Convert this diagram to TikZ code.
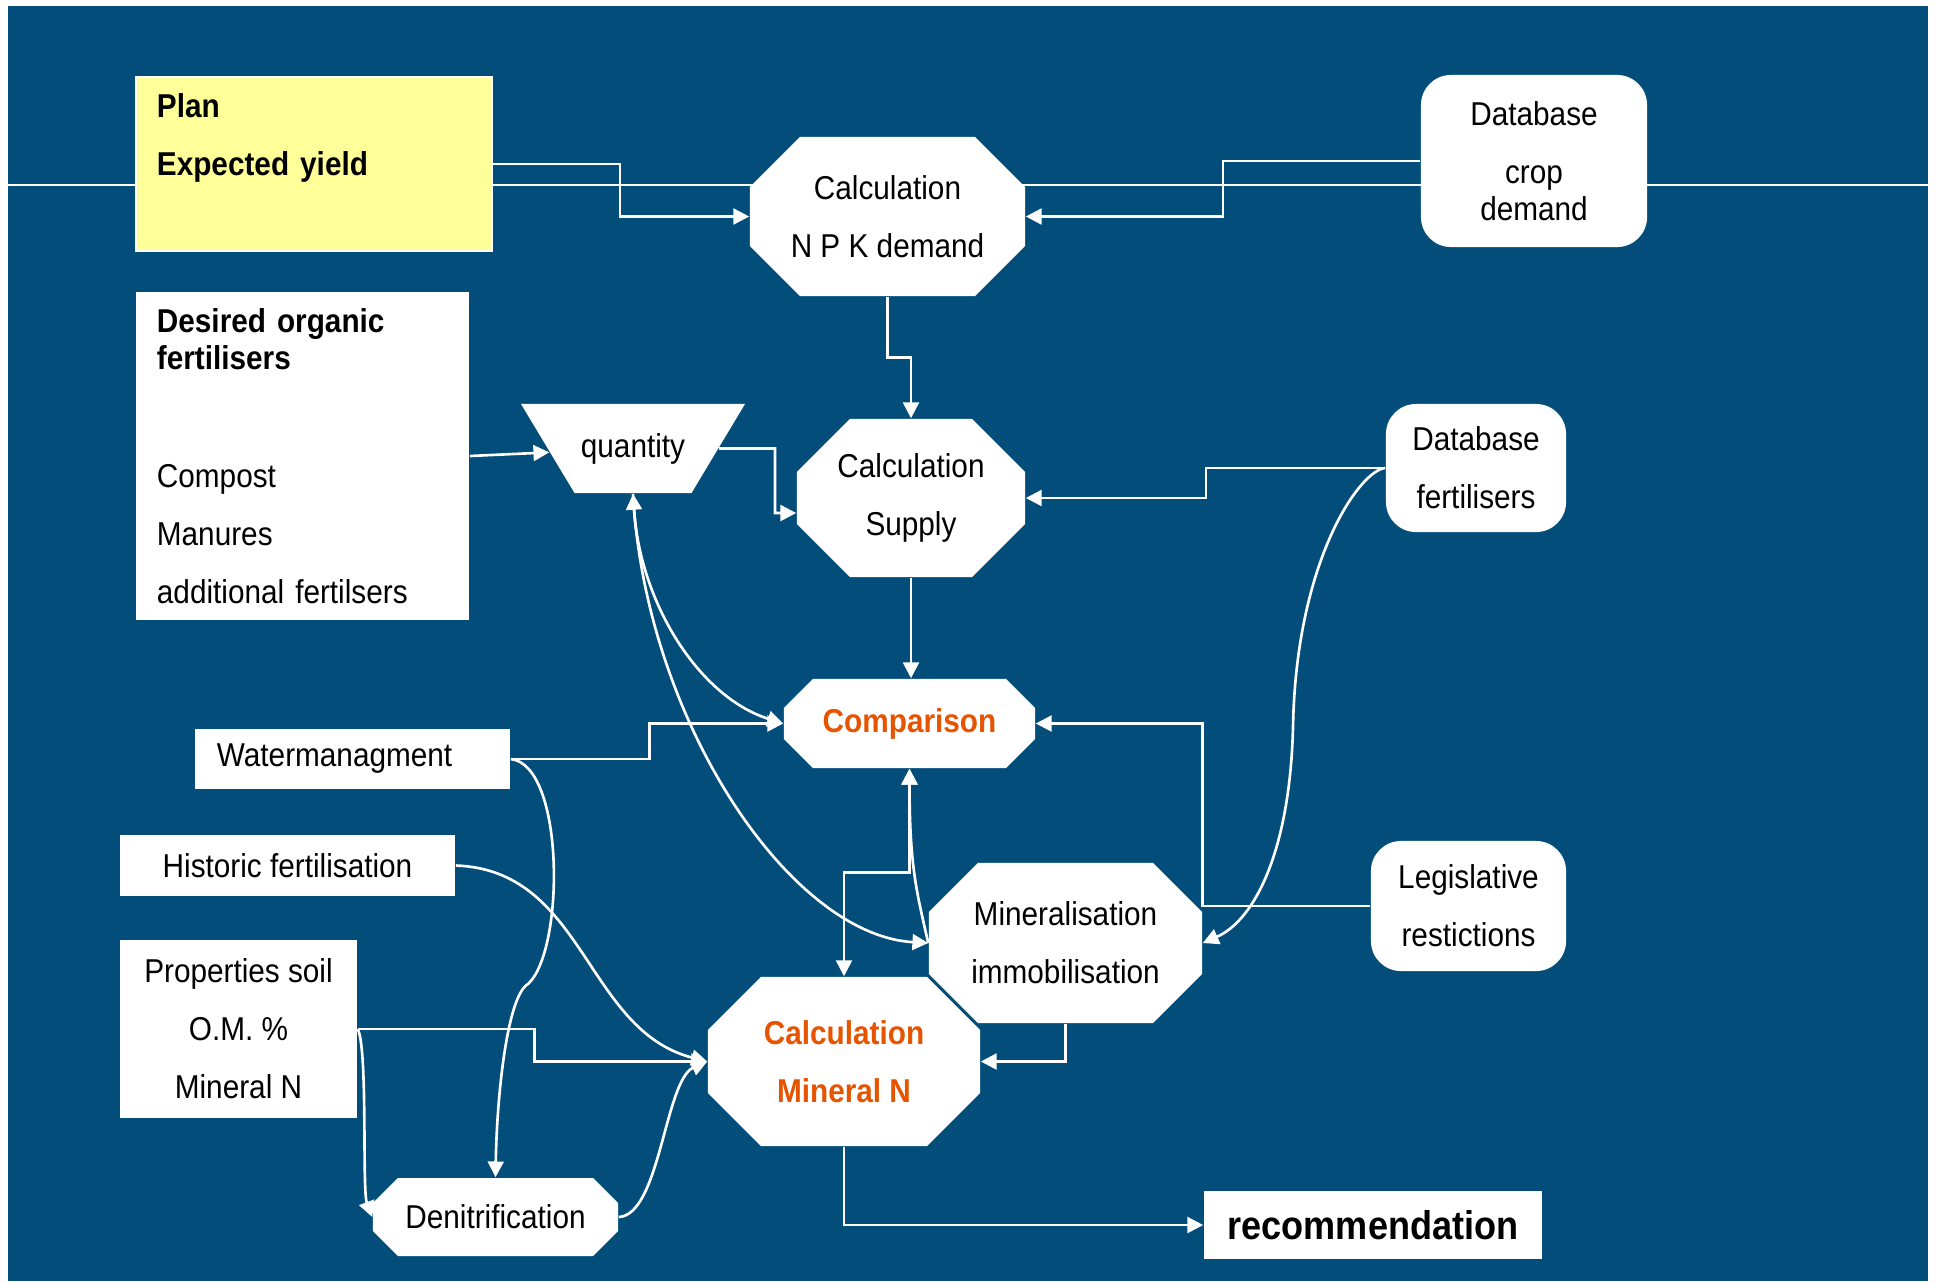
\documentclass[tikz,border=0pt]{standalone}
\usepackage{fontspec}
\setmainfont[FakeStretch=0.9]{Liberation Sans}
\usepackage{tikz}
\usetikzlibrary{arrows.meta,shapes.geometric}
\definecolor{bgblue}{RGB}{2,77,121}
\definecolor{calcorange}{RGB}{230,84,0}
\definecolor{planyellow}{RGB}{255,255,153}
\newcommand{\nodefont}{\fontsize{9.4pt}{16.5pt}\selectfont}
\tikzset{
  flow/.style={draw=white, line width=0.75pt, -{Triangle[length=4.5pt,width=4.5pt]}},
  twoway/.style={flow, {Triangle[length=4.5pt,width=4.5pt]}-{Triangle[length=4.5pt,width=4.5pt]}},
  plain/.style={draw=white, line width=0.75pt},
  whitebox/.style={fill=white, inner sep=0pt, align=center},
  roundbox/.style={whitebox, rounded corners=0.3cm},
  octbox/.style={inner sep=0pt, align=center, path picture={
    \fill[white] ([xshift=#1]path picture bounding box.north west) -- ([xshift=-#1]path picture bounding box.north east)
      -- ([yshift=-#1]path picture bounding box.north east) -- ([yshift=#1]path picture bounding box.south east)
      -- ([xshift=-#1]path picture bounding box.south east) -- ([xshift=#1]path picture bounding box.south west)
      -- ([yshift=#1]path picture bounding box.south west) -- ([yshift=-#1]path picture bounding box.north west) -- cycle;}},
  calctext/.style={text=calcorange, font=\nodefont\bfseries},
}

\begin{document}
\begin{tikzpicture}[x=0.01cm, y=-0.01cm, every node/.style={font=\nodefont}]
\useasboundingbox (0,0) rectangle (1937,1281);
\fill[white] (0,0) rectangle (1937,1281);
\fill[bgblue] (8,6) rectangle (1928,1281);
\draw[plain] (8,185) -- (1928,185);

\node[whitebox, fill=planyellow, draw=white, line width=0.4pt, align=left, text width=3.14cm, inner xsep=0.21cm, minimum height=1.74cm, font=\nodefont\bfseries] (plan) at (314,164) {Plan\\Expected yield\\\mbox{}};
\node[whitebox, align=left, text width=2.91cm, inner xsep=0.21cm, minimum height=3.28cm] (desired) at (302.5,456) {\textbf{Desired organic}\\[-6pt]\textbf{fertilisers}\\[17pt]Compost\\Manures\\additional fertilsers};
\node[octbox=0.5cm, minimum width=2.75cm, minimum height=1.59cm] (npk) at (887.5,216.5) {Calculation\\N P K demand};
\node[roundbox, minimum width=2.26cm, minimum height=1.72cm] (dbcrop) at (1534,161) {Database\\crop\\[-6pt]demand};
\node[trapezium, trapezium left angle=59, trapezium right angle=59, shape border rotate=180, trapezium stretches body, minimum width=2.24cm, text height=6.9pt, text depth=2pt, fill=white, inner xsep=0pt, inner ysep=0.29cm] (quantity) at (633,448.5) {quantity};
\node[octbox=0.53cm, minimum width=2.28cm, minimum height=1.58cm] (supply) at (911,498) {Calculation\\Supply};
\node[roundbox, minimum width=1.80cm, minimum height=1.28cm] (dbfert) at (1476,468) {Database\\fertilisers};
\node[octbox=0.29cm, calctext, minimum width=2.51cm, minimum height=0.89cm] (comparison) at (909.5,723.5) {Comparison};
\node[whitebox, align=left, text width=2.71cm, inner xsep=0.22cm, minimum height=0.60cm] (water) at (352.5,759) {Watermanagment};
\node[whitebox, minimum width=3.35cm, minimum height=0.61cm] (historic) at (287.5,865.5) {Historic fertilisation};
\node[whitebox, minimum width=2.37cm, minimum height=1.78cm] (props) at (238.5,1029) {Properties soil\\O.M. \%\\Mineral N};
\node[octbox=0.49cm, minimum width=2.73cm, minimum height=1.60cm] (mineral) at (1065.5,943) {Mineralisation\\immobilisation};
\node[roundbox, minimum width=1.95cm, minimum height=1.30cm] (legis) at (1468.5,906) {Legislative\\restictions};
\node[octbox=0.53cm, calctext, minimum width=2.72cm, minimum height=1.69cm] (mineraln) at (844,1061.5) {Calculation\\Mineral N};
\node[octbox=0.25cm, minimum width=2.45cm, minimum height=0.78cm] (denit) at (495.5,1217) {Denitrification};
\node[whitebox, minimum width=3.38cm, minimum height=0.68cm, font=\fontsize{11.4pt}{14pt}\selectfont\bfseries] (recom) at (1373,1225) {recommendation};

\draw[flow] (plan.east) -- (620,164) |- (npk.west);
\draw[flow] (dbcrop.west) -- (1223,161) |- (npk.east);
\draw[flow] (npk.south) -- ++(0,61) -| (supply.north);
\draw[flow] (desired.east) -- (quantity);
\draw[flow] (quantity.east) -| (775,513) -- ([yshift=-0.15cm]supply.west);
\draw[flow] (dbfert.west) -| (1206,498) -- (supply.east);
\draw[flow] (supply.south) -- (supply.south |- comparison.north);
\draw[twoway] (quantity.south) .. controls (640,603) and (699,697) .. (comparison.west);
\draw[flow] (quantity.south) .. controls (645,720) and (790,935) .. (mineral.west);
\draw[flow] (water.east) -- ++(139,0) |- (comparison.west);
\coordinate (wkink) at (528,984);
\draw[flow] (water.east) .. controls (565,765) and (565,950) .. (wkink) .. controls (508,995) and (497,1090) .. (denit.north);
\draw[flow] (historic.east) .. controls (585,870) and (585,1030) .. (mineraln.west);
\draw[flow] (props.east) -- ++(177,0) |- (mineraln.west);
\draw[flow] (props.east) .. controls (368,1050) and (362,1190) .. (denit.west);
\draw[flow] (denit.east) .. controls (660,1215) and (665,1080) .. (mineraln.west);
\draw[twoway] (comparison.south) -- ++(0,104) -| (mineraln.north);
\draw[flow] (mineral.west) .. controls (917,893) and (909.5,868) .. (comparison.south);
\draw[flow] (mineral.south) |- (mineraln.east);
\draw[flow] (legis.west) -- (mineral.east |- legis.west) |- (comparison.east);
\coordinate (fbend) at (1293,727);
\draw[flow] (dbfert.west) .. controls (1360,470) and (1296,560) .. (fbend) .. controls (1290,850) and (1255,920) .. (mineral.east);
\draw[flow] (mineraln.south) |- (recom.west);
\end{tikzpicture}
\end{document}
